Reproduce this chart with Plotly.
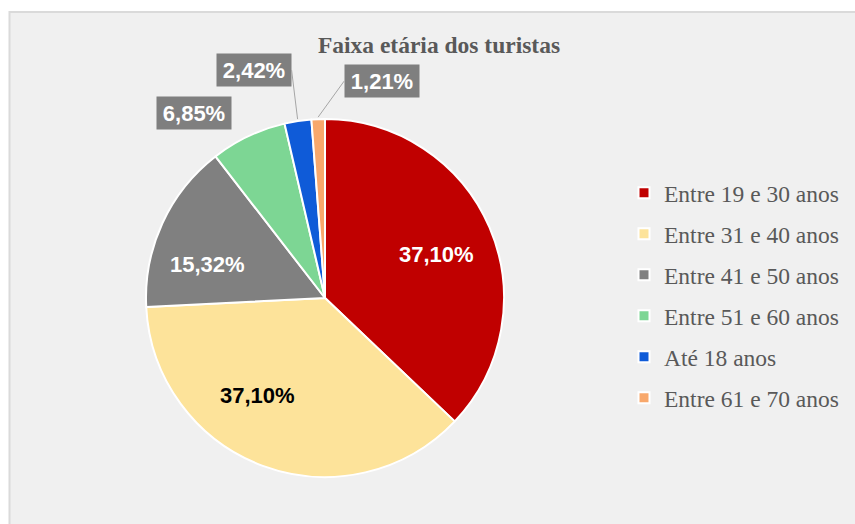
import math
import plotly.graph_objects as go

# ---- data ----
categories = ["Entre 19 e 30 anos", "Entre 31 e 40 anos", "Entre 41 e 50 anos",
              "Entre 51 e 60 anos", "Até 18 anos", "Entre 61 e 70 anos"]
values = [37.10, 37.10, 15.32, 6.85, 2.42, 1.21]
colors = ["#c00000", "#fde39a", "#808080", "#7dd694", "#0f5bd8", "#f8a86c"]
title_text = "Faixa etária dos turistas"

W, H = 855, 524
# pie geometry (pixels)
CX, CY, R = 325, 298, 179

fig = go.Figure()
fig.add_trace(go.Pie(
    labels=categories, values=values, sort=False, direction="clockwise", rotation=0,
    marker=dict(colors=colors, line=dict(color="white", width=2)),
    textposition="none",
    domain=dict(x=[(CX - R) / W, (CX + R) / W], y=[1 - (CY + R) / H, 1 - (CY - R) / H]),
    showlegend=False, hoverinfo="label+percent",
))

# legend entries (one per category)
for lab, col in zip(categories, colors):
    fig.add_trace(go.Scatter(
        x=[None], y=[None], mode="markers", name=lab, legendgroup=lab,
        marker=dict(symbol="square", size=11, color=col, line=dict(color="white", width=2)),
        showlegend=True, hoverinfo="skip"))

# slice mid-angles from the data
total = sum(values)
cum = 0
mids = []
for v in values:
    mids.append((cum + v / 2) / total * 360)
    cum += v

def point(idx, rr):
    a = math.radians(mids[idx])
    px = CX + rr * math.sin(a)
    py = CY - rr * math.cos(a)
    return px / W, 1 - py / H

def fmt(v):
    return f"{v / total * 100:.2f}".replace(".", ",") + "%"

LABEL_FONT = "Arial, Liberation Sans"

# inside labels (large slices)
inside_specs = {
    0: dict(color="white", xs=3, ys=-3),
    1: dict(color="black", xs=-26, ys=13),
    2: dict(color="white", xs=-10, ys=-16),
}
for idx, spec in inside_specs.items():
    px, py = point(idx, 0.66 * R)
    fig.add_annotation(
        x=px, y=py, xref="paper", yref="paper", text="<b>" + fmt(values[idx]) + "</b>",
        showarrow=False, xshift=spec["xs"], yshift=spec["ys"],
        xanchor="center", yanchor="middle",
        font=dict(family=LABEL_FONT, size=22, color=spec["color"]))

# outside labels for small slices, with leader lines
label_specs = {
    3: dict(ax=-53, ay=-21, xanchor="center", yanchor="middle", arrowcolor="rgba(0,0,0,0)"),
    4: dict(ax=-6, ay=-49, xanchor="right", yanchor="middle", arrowcolor="#a6a6a6"),
    5: dict(ax=26, ay=-36, xanchor="left", yanchor="middle", arrowcolor="#a6a6a6"),
}
for idx, spec in label_specs.items():
    hx, hy = point(idx, R + 2)
    fig.add_annotation(
        x=hx, y=hy, xref="paper", yref="paper", text="<b>" + fmt(values[idx]) + "</b>",
        showarrow=True, arrowhead=0, arrowwidth=1, ax=spec["ax"], ay=spec["ay"],
        arrowcolor=spec["arrowcolor"], xanchor=spec["xanchor"], yanchor=spec["yanchor"],
        bgcolor="#7f7f7f", borderpad=4, width=66, height=24,
        font=dict(family=LABEL_FONT, size=22, color="white"))

fig.add_shape(type="rect", xref="paper", yref="paper", x0=9.5 / W, x1=1.01, y0=-0.01, y1=1 - 12 / H,
              fillcolor="#f0f0f0", line=dict(color="#dadada", width=2), layer="below")

fig.update_layout(
    width=W, height=H, margin=dict(l=0, r=0, t=0, b=0),
    paper_bgcolor="white", plot_bgcolor="rgba(0,0,0,0)",
    separators=",.",
    title=dict(text="<b>" + title_text + "</b>", x=439 / W, xanchor="center",
               y=1 - 45 / H, yanchor="middle", yref="container",
               font=dict(family="Times New Roman, Liberation Serif", size=23.5, color="#595959")),
    xaxis=dict(visible=False), yaxis=dict(visible=False),
    legend=dict(x=624 / W, xanchor="left", y=1 - 171 / H, yanchor="top",
                traceorder="grouped", tracegroupgap=7.45, bgcolor="rgba(0,0,0,0)",
                font=dict(family="Times New Roman, Liberation Serif", size=23.5, color="#595959")),
)

fig.write_html("out.html", config={"displayModeBar": False},
               post_script="document.body.style.margin='0px';")
